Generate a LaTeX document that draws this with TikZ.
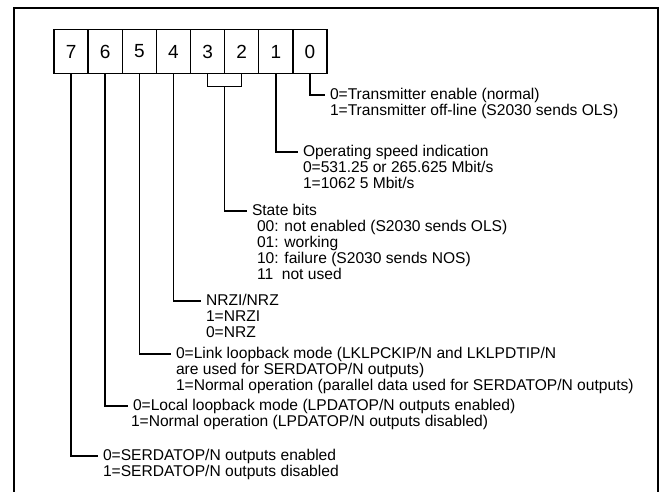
\documentclass[tikz,border=0pt]{standalone}
\usepackage{fontspec}
\setmainfont{Liberation Sans}
\usetikzlibrary{calc}
\begin{document}
\begin{tikzpicture}[x=1pt,y=-1pt,
  bitbox/.style={draw,line width=1.4pt,minimum width=34.1pt,minimum height=44pt,inner sep=0pt,outer sep=0pt,anchor=north west,font=\fontsize{19}{20}\selectfont},
  lbl/.style={anchor=base west,inner sep=0pt,outer sep=0pt,text height=11pt,text depth=3pt,font=\fontsize{15.6}{16}\selectfont},
  lead/.style={line width=1.6pt,shorten >=5pt},
  wire/.style={line width=1.6pt}]
\useasboundingbox (0,0) rectangle (662,491);
% frame
\draw[line width=2.6pt] (14,495) -- (14,8) -- (658,8) -- (658,495);
% bit boxes
\foreach \b [count=\i from 0] in {7,6,5,4,3,2,1,0}{
  \node[bitbox] (b\b) at ({54+\i*34.125},29.5) {\b};
}
% bracket for bits 3 and 2
\coordinate (br) at ($(b3.south)!0.5!(b2.south)+(0,13)$);
\coordinate (brl) at (b3.south |- br);
\coordinate (brr) at (b2.south |- br);
\draw[wire] (b3.south) -- (brl) -- (brr) -- (b2.south);
% texts
\node[lbl] (t0a) at (330,99) {0=Transmitter enable (normal)};
\node[lbl] (t0b) at (330,115) {1=Transmitter off-line (S2030 sends OLS)};
\node[lbl] (t1a) at (303,156) {Operating speed indication};
\node[lbl] (t1b) at (303,172) {0=531.25 or 265.625 Mbit/s};
\node[lbl] (t1c) at (303,188) {1=1062 5 Mbit/s};
\node[lbl] (t2a) at (252,215) {State bits};
\node[lbl] (t2b) at (257,231) {00: not enabled (S2030 sends OLS)};
\node[lbl] (t2c) at (257,247) {01: working};
\node[lbl] (t2d) at (257,263) {10: failure (S2030 sends NOS)};
\node[lbl] (t2e) at (257,279) {11\ \ not used};
\node[lbl] (t4a) at (206,305) {NRZI/NRZ};
\node[lbl] (t4b) at (206,321) {1=NRZI};
\node[lbl] (t4c) at (206,337) {0=NRZ};
\node[lbl] (t5a) at (176,358) {0=Link loopback mode (LKLPCKIP/N and LKLPDTIP/N};
\node[lbl] (t5b) at (176,374) {are used for SERDATOP/N outputs)};
\node[lbl] (t5c) at (176,390) {1=Normal operation (parallel data used for SERDATOP/N outputs)};
\node[lbl] (t6a) at (133,410) {0=Local loopback mode (LPDATOP/N outputs enabled)};
\node[lbl] (t6b) at (131,426) {1=Normal operation (LPDATOP/N outputs disabled)};
\node[lbl] (t7a) at (103,460) {0=SERDATOP/N outputs enabled};
\node[lbl] (t7b) at (103,476) {1=SERDATOP/N outputs disabled};
% leads
\draw[lead] (b0.south) |- (t0a.west);
\draw[lead] (b1.south) |- (t1a.west);
\draw[lead] (br) |- (t2a.west);
\draw[lead] (b4.south) |- (t4a.west);
\draw[lead] (b5.south) |- (t5a.west);
\draw[lead] (b6.south) |- (t6a.west);
\draw[lead] (b7.south) |- (t7a.west);
\end{tikzpicture}
\end{document}
